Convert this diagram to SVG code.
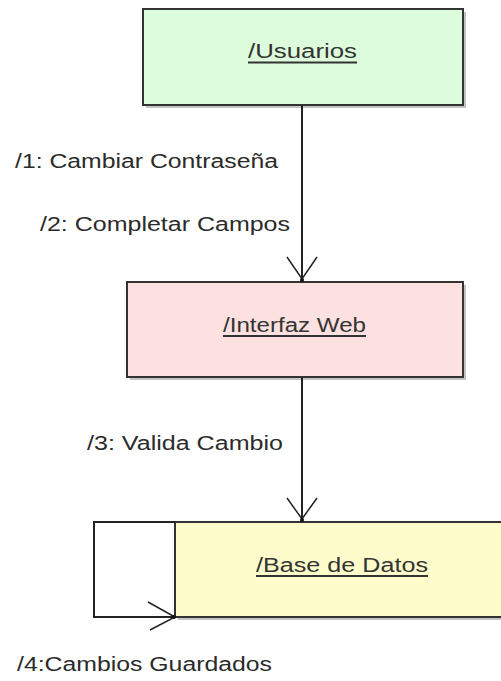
<svg xmlns="http://www.w3.org/2000/svg" width="501" height="681" viewBox="0 0 501 681">
<defs>
<style>
.box{stroke:#333;stroke-width:2}
.shadow{fill:#c4c4c4}
.name{font-family:"Liberation Sans",Arial,sans-serif;font-size:20px;fill:#333;text-anchor:middle}
.ul{stroke:#333;stroke-width:2}
.lbl{font-family:"Liberation Sans",Arial,sans-serif;font-size:20px;fill:#2b2b2b}
.conn{stroke:#222;stroke-width:2;fill:none}
.head{stroke:#222;stroke-width:1.5;fill:none}
</style>
</defs>
<rect width="501" height="681" fill="#fff"/>
<g id="node-usuarios">
<rect class="shadow" x="146" y="12" width="320" height="96"/>
<rect class="box" x="143" y="9" width="320" height="96" fill="#dcfcdc"/>
<text class="name" x="302.5" y="58" textLength="109" lengthAdjust="spacingAndGlyphs">/Usuarios</text>
<line class="ul" x1="248" y1="62.5" x2="357" y2="62.5"/>
</g>
<g id="node-interfaz">
<rect class="shadow" x="130" y="285" width="336" height="95"/>
<rect class="box" x="127" y="282" width="336" height="95" fill="#fde0e0"/>
<text class="name" x="294.5" y="332" textLength="143" lengthAdjust="spacingAndGlyphs">/Interfaz Web</text>
<line class="ul" x1="223" y1="336" x2="366" y2="336"/>
</g>
<g id="node-base">
<rect class="shadow" x="178" y="525" width="330" height="95"/>
<rect class="box" x="175" y="522" width="340" height="95" fill="#fffccc"/>
<text class="name" x="342" y="572" textLength="172" lengthAdjust="spacingAndGlyphs">/Base de Datos</text>
<line class="ul" x1="256" y1="576" x2="428" y2="576"/>
</g>
<g id="connectors">
<line class="conn" x1="302" y1="105" x2="302" y2="281"/>
<polyline class="head" points="287,257 302,279 317,257"/>
<circle cx="302" cy="280" r="2" fill="#111"/>
<line class="conn" x1="302" y1="377" x2="302" y2="521"/>
<polyline class="head" points="287,498 302,519 317,498"/>
<circle cx="302" cy="520" r="2" fill="#111"/>
<polyline class="conn" points="175,522 94,522 94,617 175,617"/>
<polyline class="head" points="148,602 175,617 150,630"/>
<circle cx="174" cy="617" r="2" fill="#111"/>
</g>
<g id="labels">
<text class="lbl" x="15" y="168" textLength="263" lengthAdjust="spacingAndGlyphs">/1: Cambiar Contraseña</text>
<text class="lbl" x="40" y="231" textLength="250" lengthAdjust="spacingAndGlyphs">/2: Completar Campos</text>
<text class="lbl" x="87" y="450" textLength="196" lengthAdjust="spacingAndGlyphs">/3: Valida Cambio</text>
<text class="lbl" x="17" y="671" textLength="255" lengthAdjust="spacingAndGlyphs">/4:Cambios Guardados</text>
</g>
</svg>
